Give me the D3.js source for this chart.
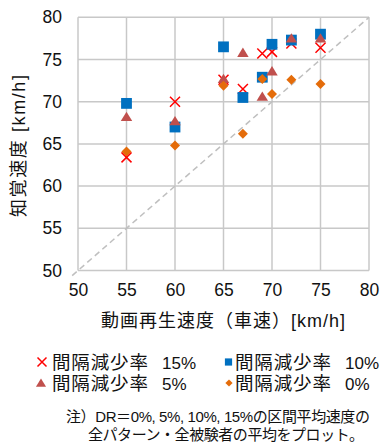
<!DOCTYPE html>
<html>
<head>
<meta charset="utf-8">
<script src="https://cdn.jsdelivr.net/npm/d3@7"></script>
<style>
  html, body { margin: 0; padding: 0; background: #fff; }
  svg { display: block; }
  text { font-family: "Liberation Sans", Arial, "Noto Sans CJK JP", sans-serif; fill: #111; }
</style>
</head>
<body>
<svg id="chart" width="380" height="443"></svg>
<script>
// Video playback speed (vehicle speed) on the x axis, km/h
const playbackSpeed = [55, 60, 65, 67, 69, 70, 72, 75];
// Mean perceived speed, km/h, for each interval-reduction rate
const perceived15 = [63.4, 70.0, 72.6, 71.5, 75.7, 75.9, 76.9, 76.4];
const perceived10 = [69.8, 67.0, 76.5, 70.5, 72.9, 76.8, 77.3, 78.0];
const perceived5  = [68.2, 67.7, 72.7, 75.8, 70.6, 73.6, 77.5, 77.5];
const perceived0  = [64.1, 64.8, 71.9, 66.2, 72.7, 70.9, 72.6, 72.1];
const tickValues = [50, 55, 60, 65, 70, 75, 80];
const legendLabels = ["間隔減少率", "間隔減少率", "間隔減少率", "間隔減少率"];
const legendRates = ["15%", "10%", "5%", "0%"];

const svg = d3.select("#chart");
const x = d3.scaleLinear().domain([50, 80]).range([78, 369]);
const y = d3.scaleLinear().domain([50, 80]).range([270.5, 17.3]);

const gridColor = "#c8c8c8";

// gridlines (both directions, including the frame)
const grid = svg.append("g");
grid.selectAll("line.v").data(tickValues).join("line")
  .attr("x1", d => x(d)).attr("x2", d => x(d))
  .attr("y1", y(80)).attr("y2", y(50))
  .attr("stroke", gridColor).attr("stroke-width", 1.5);
grid.selectAll("line.h").data(tickValues).join("line")
  .attr("y1", d => y(d)).attr("y2", d => y(d))
  .attr("x1", x(50)).attr("x2", x(80))
  .attr("stroke", gridColor).attr("stroke-width", 1.5);

// y = x reference line
svg.append("line")
  .attr("x1", x(49.4)).attr("y1", y(49.4))
  .attr("x2", x(80)).attr("y2", y(80))
  .attr("stroke", "#bfbfbf").attr("stroke-width", 1.5)
  .attr("stroke-dasharray", "6,4");

// axes (labels only)
const yAxis = d3.axisLeft(y).tickValues(tickValues).tickSize(0).tickPadding(16);
svg.append("g").attr("transform", `translate(${x(50)},0)`).call(yAxis)
  .call(g => g.select(".domain").remove())
  .selectAll("text").style("font-size", "17.5px").attr("fill", "#111")
  .style("font-family", "'Liberation Sans', Arial, sans-serif");
const xAxis = d3.axisBottom(x).tickValues(tickValues).tickSize(0).tickPadding(13);
svg.append("g").attr("transform", `translate(0,${y(50)})`).call(xAxis)
  .call(g => g.select(".domain").remove())
  .selectAll("text").style("font-size", "17.5px").attr("fill", "#111")
  .style("font-family", "'Liberation Sans', Arial, sans-serif");

// axis titles
svg.append("text")
  .attr("x", 223).attr("y", 327)
  .attr("text-anchor", "middle")
  .style("font-size", "18px")
  .attr("textLength", 244).attr("lengthAdjust", "spacing")
  .text("動画再生速度（車速）[km/h]");
svg.append("text")
  .attr("transform", "translate(25,146) rotate(-90)")
  .attr("text-anchor", "middle")
  .style("font-size", "18px")
  .attr("textLength", 142).attr("lengthAdjust", "spacing")
  .text("知覚速度 [km/h]");

// marker shapes
const colors = { r15: "#ff0000", r10: "#0070c0", r5: "#c0504d", r0: "#e46c0a" };
function drawCross(g, cx, cy, s, color) {
  g.append("path")
    .attr("d", `M${cx - s},${cy - s}L${cx + s},${cy + s}M${cx - s},${cy + s}L${cx + s},${cy - s}`)
    .attr("stroke", color).attr("stroke-width", 1.5).attr("fill", "none");
}
function drawSquare(g, cx, cy, s, color) {
  g.append("rect").attr("x", cx - s).attr("y", cy - s)
    .attr("width", 2 * s).attr("height", 2 * s).attr("fill", color);
}
function drawTriangle(g, cx, cy, s, color) {
  g.append("path")
    .attr("d", `M${cx},${cy - s}L${cx + s * 1.1},${cy + s * 0.8}L${cx - s * 1.1},${cy + s * 0.8}Z`)
    .attr("fill", color);
}
function drawDiamond(g, cx, cy, s, color) {
  g.append("path")
    .attr("d", `M${cx},${cy - s}L${cx + s},${cy}L${cx},${cy + s}L${cx - s},${cy}Z`)
    .attr("fill", color);
}

const series = [
  { values: perceived15, draw: drawCross, size: 5, color: colors.r15 },
  { values: perceived10, draw: drawSquare, size: 5.4, color: colors.r10 },
  { values: perceived5, draw: drawTriangle, size: 5.2, color: colors.r5 },
  { values: perceived0, draw: drawDiamond, size: 5, color: colors.r0 }
];
const marks = svg.append("g");
series.forEach(s => {
  s.values.forEach((v, i) => s.draw(marks, x(playbackSpeed[i]), y(v), s.size, s.color));
});

// legend
const legendPos = [
  { mx: 42, my: 362, tx: 52, draw: drawCross, size: 4.5, color: colors.r15 },
  { mx: 228.5, my: 362, tx: 235, draw: drawSquare, size: 3.6, color: colors.r10 },
  { mx: 41, my: 383, tx: 52, draw: drawTriangle, size: 4.6, color: colors.r5 },
  { mx: 229, my: 383, tx: 235, draw: drawDiamond, size: 3.6, color: colors.r0 }
];
const legend = svg.append("g");
legendPos.forEach((p, i) => {
  p.draw(legend, p.mx, p.my, p.size, p.color);
  legend.append("text")
    .attr("x", p.tx).attr("y", p.my + 7)
    .style("font-size", "18.5px")
    .attr("textLength", 96).attr("lengthAdjust", "spacing")
    .text(legendLabels[i]);
  legend.append("text")
    .attr("x", p.tx + 110).attr("y", p.my + 7)
    .style("font-size", "17px")
    .text(legendRates[i]);
});

// note
svg.append("text")
  .attr("x", 66).attr("y", 422)
  .style("font-size", "15px")
  .attr("textLength", 304).attr("lengthAdjust", "spacing")
  .text("注）DR＝0%, 5%, 10%, 15%の区間平均速度の");
svg.append("text")
  .attr("x", 88).attr("y", 440)
  .style("font-size", "15px")
  .attr("textLength", 276).attr("lengthAdjust", "spacing")
  .text("全パターン・全被験者の平均をプロット。");
</script>
</body>
</html>
